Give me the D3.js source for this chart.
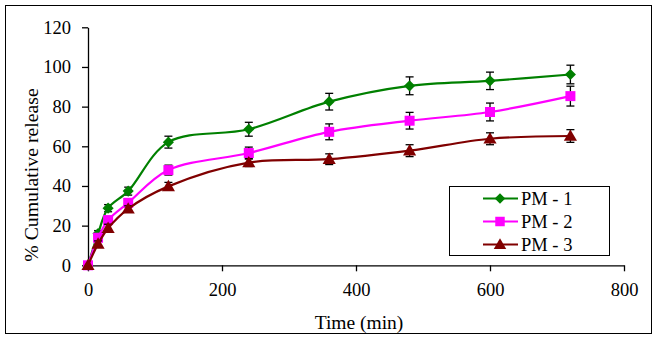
<!DOCTYPE html>
<html>
<head>
<meta charset="utf-8">
<script src="https://cdn.jsdelivr.net/npm/d3@7"></script>
<style>
  body { margin: 0; background: #fff; }
  svg { display: block; }
  text { font-family: "Liberation Serif", "Times New Roman", serif; fill: #000; }
</style>
</head>
<body>
<div id="chart"></div>
<script>
// time points (min)
var times = [0, 15, 30, 60, 120, 240, 360, 480, 600, 720];

// % cumulative release
var pm1 = [0, 16, 28.8, 37.4, 62.1, 68.6, 82.5, 90.5, 93, 96.2];
var pm2 = [0, 13.9, 22.8, 31.5, 48, 56.6, 67.3, 72.9, 77.3, 85.3];
var pm3 = [0, 10.8, 18.7, 28.5, 39.8, 51.8, 53.5, 57.8, 63.8, 65.2];

// error (+/-)
var pm1Err = [0, 1.5, 1.8, 2, 3, 3.5, 4.2, 4.5, 4.4, 4.7];
var pm2Err = [0, 1.5, 1.5, 2, 2.5, 3, 4, 4.2, 4.5, 5];
var pm3Err = [0, 1.5, 2, 1.5, 2, 2, 2.7, 3, 3, 3.2];

var seriesNames = ["PM - 1", "PM - 2", "PM - 3"];
var seriesColors = ["#008000", "#ff00ff", "#800000"];
var seriesShapes = [d3.symbolSquare, d3.symbolSquare, d3.symbolTriangle];
var seriesRot = [45, 0, 0];
var seriesSize = [62, 100, 75];

var xTicks = [0, 200, 400, 600, 800];
var yTicks = [0, 20, 40, 60, 80, 100, 120];

var W = 659, H = 341;
var svg = d3.select("#chart").append("svg").attr("width", W).attr("height", H);

// outer frame
svg.append("rect")
    .attr("x", 5.5).attr("y", 5.5)
    .attr("width", 646).attr("height", 328)
    .attr("fill", "#fff").attr("stroke", "#000").attr("stroke-width", 1);

var x = d3.scaleLinear().domain([0, 800]).range([88, 624]);
var y = d3.scaleLinear().domain([0, 120]).range([265.3, 27.3]);

// axes
var gx = svg.append("g").attr("transform", "translate(0," + y(0) + ")")
    .call(d3.axisBottom(x).tickValues(xTicks).tickSize(6).tickPadding(12).tickSizeOuter(0));
var gy = svg.append("g").attr("transform", "translate(" + x(0) + ",0)")
    .call(d3.axisLeft(y).tickValues(yTicks).tickSize(6).tickPadding(11).tickSizeOuter(0));

[gx, gy].forEach(function(g){
    g.select(".domain").attr("stroke", "#000").attr("stroke-width", 1.3);
    g.selectAll(".tick line").attr("stroke", "#000").attr("stroke-width", 1.3);
    g.selectAll(".tick text").style("font-family", "'Liberation Serif', serif")
        .style("font-size", "18.5px").attr("fill", "#000");
});

// axis titles
svg.append("text")
    .attr("x", 359).attr("y", 329)
    .attr("text-anchor", "middle")
    .style("font-size", "19.5px")
    .text("Time (min)");

svg.append("text")
    .attr("transform", "translate(38,175) rotate(-90)")
    .attr("text-anchor", "middle")
    .style("font-size", "19.8px")
    .text("% Cumulative release");

var allVals = [pm1, pm2, pm3];
var allErr = [pm1Err, pm2Err, pm3Err];

var line = d3.line()
    .x(function(d){ return x(d[0]); })
    .y(function(d){ return y(d[1]); })
    .curve(d3.curveCatmullRom.alpha(0.5));

var plot = svg.append("g");

// series in order, PM - 3 ends up on top
for (var s = 0; s < 3; s++) {
    var pts = times.map(function(t, i){ return [t, allVals[s][i], allErr[s][i]]; });
    var g = plot.append("g");

    // error bars
    var eb = g.selectAll(".eb").data(pts.filter(function(d){ return d[2] > 0; }))
        .enter().append("g").attr("class", "eb")
        .attr("stroke", "#000").attr("stroke-width", 1.3);
    eb.append("line")
        .attr("x1", function(d){ return x(d[0]); }).attr("x2", function(d){ return x(d[0]); })
        .attr("y1", function(d){ return y(d[1] - d[2]); }).attr("y2", function(d){ return y(d[1] + d[2]); });
    eb.append("line")
        .attr("x1", function(d){ return x(d[0]) - 4; }).attr("x2", function(d){ return x(d[0]) + 4; })
        .attr("y1", function(d){ return y(d[1] + d[2]); }).attr("y2", function(d){ return y(d[1] + d[2]); });
    eb.append("line")
        .attr("x1", function(d){ return x(d[0]) - 4; }).attr("x2", function(d){ return x(d[0]) + 4; })
        .attr("y1", function(d){ return y(d[1] - d[2]); }).attr("y2", function(d){ return y(d[1] - d[2]); });

    g.append("path")
        .attr("d", line(pts))
        .attr("fill", "none")
        .attr("stroke", seriesColors[s])
        .attr("stroke-width", 2.2);

    var sym = d3.symbol().type(seriesShapes[s]).size(seriesSize[s]);
    g.selectAll(".mk").data(pts).enter().append("path")
        .attr("class", "mk")
        .attr("d", sym)
        .attr("transform", function(d){
            return "translate(" + x(d[0]) + "," + (y(d[1]) + (s == 2 ? 1 : 0)) + ") rotate(" + seriesRot[s] + ")";
        })
        .attr("fill", seriesColors[s]);
}

// legend
var lg = svg.append("g");
lg.append("rect")
    .attr("x", 449.5).attr("y", 186.5).attr("width", 160).attr("height", 69)
    .attr("fill", "#fff").attr("stroke", "#000").attr("stroke-width", 1);

seriesNames.forEach(function(name, i){
    var cy = 198.5 + i * 23;
    lg.append("line")
        .attr("x1", 483).attr("x2", 518).attr("y1", cy).attr("y2", cy)
        .attr("stroke", seriesColors[i]).attr("stroke-width", 2.2);
    lg.append("path")
        .attr("d", d3.symbol().type(seriesShapes[i]).size(seriesSize[i] * 0.9))
        .attr("transform", "translate(500," + (cy + (i == 2 ? 1 : 0)) + ") rotate(" + seriesRot[i] + ")")
        .attr("fill", seriesColors[i]);
    lg.append("text")
        .attr("x", 521).attr("y", cy + 6)
        .style("font-size", "18.5px")
        .text(name);
});
</script>
</body>
</html>
